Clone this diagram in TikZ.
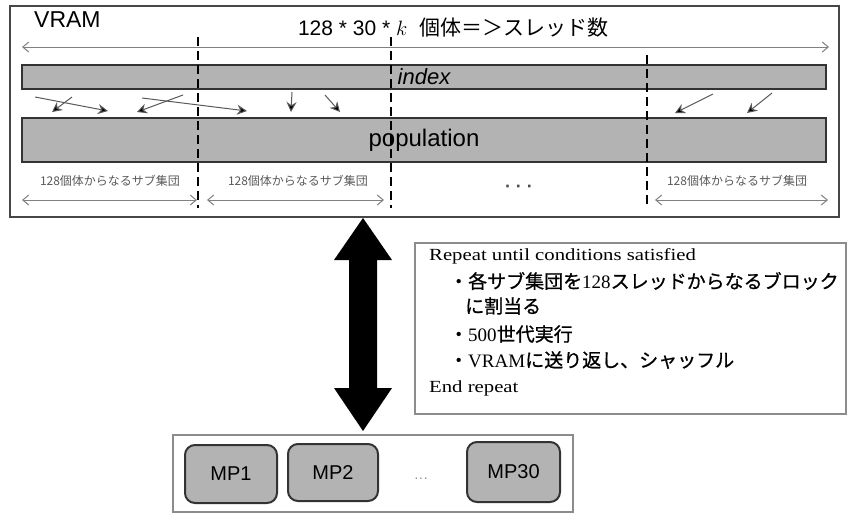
\documentclass[tikz,border=0pt]{standalone}
\usepackage{fontspec}
\usepackage{graphicx}
\setmainfont{Liberation Sans}
\newfontfamily\jp{Noto Sans CJK JP}
\newfontfamily\jpb{Noto Sans CJK JP}[FakeBold=0.8]
\newfontfamily\tms{Liberation Serif}
\usetikzlibrary{arrows.meta,calc}
\definecolor{barfill}{HTML}{B3B3B3}
\definecolor{edge}{HTML}{333333}
\newcommand{\wide}[1]{\scalebox{1.22}[1]{#1}}
\begin{document}
\begin{tikzpicture}[x=1pt,y=-1pt,
  bar/.style={draw=edge, fill=barfill, line width=1.6pt, inner sep=0pt},
  frame/.style={draw=edge!90, line width=1.8pt, inner sep=0pt},
  lightframe/.style={draw=black!45, line width=1.3pt, inner sep=0pt},
  dimline/.style={draw=black!50, line width=1pt, {Straight Barb[length=6pt,width=10pt]}-{Straight Barb[length=6pt,width=10pt]}},
  divider/.style={draw=black, line width=2.4pt, dash pattern=on 9pt off 5pt},
  shuffle/.style={draw=black!65, line width=1pt, -{Stealth[length=10pt,width=10pt,fill=black]}},
  mpbox/.style={draw=edge, fill=barfill, line width=2pt, rounded corners=10pt, inner sep=0pt, font=\fontsize{20}{20}\selectfont},
  sublabel/.style={font=\jp\fontsize{12}{12}\selectfont, text=black!65, inner sep=0pt},
  boxline/.style={anchor=west, inner sep=0pt, font=\jpb\fontsize{19}{19}\selectfont},
  boxlat/.style={anchor=west, inner sep=0pt, font=\tms\fontsize{17}{17}\selectfont},
]
\useasboundingbox (0,0) rectangle (848,514);

% VRAM frame
\node[frame, minimum width=829pt, minimum height=211pt] (vram) at (424.5,111.5) {};
\node[anchor=west, inner sep=0pt, font=\fontsize{23}{23}\selectfont] (vramlabel) at (34,20) {VRAM};
\node[inner sep=0pt, font=\fontsize{21}{21}\selectfont] (total) at (453,28) {128 * 30 * $k$\ \ {\jp 個体＝＞スレッド数}};

\coordinate (tl) at (22,47);
\coordinate (tr) at (829,47);
\draw[dimline] (tl) -- (tr);

% bars
\node[bar, minimum width=804pt, minimum height=24pt, font=\itshape\fontsize{22}{22}\selectfont] (index) at (424,77) {index};
\node[bar, minimum width=804pt, minimum height=44pt, font=\fontsize{24}{24}\selectfont] (population) at (424,140) {population};

% dividers
\draw[divider] (198,37) -- (198,208);
\draw[divider] (391,37) -- (391,208);
\draw[divider] (647,55) -- (647,208);

% shuffle arrows
\coordinate (s1a) at (35,97);  \coordinate (s1b) at (108,111);
\coordinate (s2a) at (72,97);  \coordinate (s2b) at (52,112);
\coordinate (s3a) at (142,98); \coordinate (s3b) at (247,111);
\coordinate (s4a) at (183,95); \coordinate (s4b) at (137,112);
\coordinate (s5a) at (292,92); \coordinate (s5b) at (291,112);
\coordinate (s6a) at (325,95); \coordinate (s6b) at (340,112);
\coordinate (s7a) at (713,94); \coordinate (s7b) at (675,113);
\coordinate (s8a) at (772,93); \coordinate (s8b) at (747,113);
\foreach \i in {1,...,8} {\draw[shuffle] (s\i a) -- (s\i b);}

% sub group labels
\node[sublabel] (sub1) at (110,181) {128個体からなるサブ集団};
\node[sublabel] (sub2) at (298,181) {128個体からなるサブ集団};
\node[sublabel] (sub3) at (737,181) {128個体からなるサブ集団};
\node[inner sep=0pt, font=\bfseries\fontsize{18}{18}\selectfont, text=black!70] (dots) at (519,189) {· · ·};

\coordinate (d1a) at (22,200);  \coordinate (d1b) at (197,200);
\coordinate (d2a) at (207,200); \coordinate (d2b) at (384,200);
\coordinate (d3a) at (655,200); \coordinate (d3b) at (828,200);
\draw[dimline] (d1a) -- (d1b);
\draw[dimline] (d2a) -- (d2b);
\draw[dimline] (d3a) -- (d3b);

% big double arrow
\fill[black] (363,218) -- (392,260) -- (377,260) -- (377,388) -- (392,388) -- (363,431)
  -- (334,388) -- (349,388) -- (349,260) -- (334,260) -- cycle;

% repeat box
\node[lightframe, minimum width=431pt, minimum height=171pt] (rep) at (630.5,328.5) {};
\node[boxlat] (r1) at (429,256) {\wide{Repeat until conditions satisfied}};
\node[boxline] (r2) at (449,281) {・各サブ集団を{\tms 128}スレッドからなるブロック};
\node[boxline] (r3) at (465,306) {に割当る};
\node[boxline] (r4) at (449,334) {・{\tms 500}世代実行};
\node[boxline] (r5) at (449,360) {・{\tms VRAM}に送り返し、シャッフル};
\node[boxlat] (r6) at (429,388) {\wide{End repeat}};

% MP box
\node[lightframe, minimum width=400pt, minimum height=77pt] (mpouter) at (373,473.5) {};
\node[mpbox, minimum width=92pt, minimum height=58pt] (mp1) at (231,474) {MP1};
\node[mpbox, minimum width=90pt, minimum height=57pt] (mp2) at (333,472.5) {MP2};
\node[mpbox, minimum width=93pt, minimum height=60pt] (mp30) at (513.5,472) {MP30};
\node[inner sep=0pt, font=\fontsize{14}{14}\selectfont, text=black!45] (mpdots) at (421,480) {···};
\end{tikzpicture}
\end{document}
